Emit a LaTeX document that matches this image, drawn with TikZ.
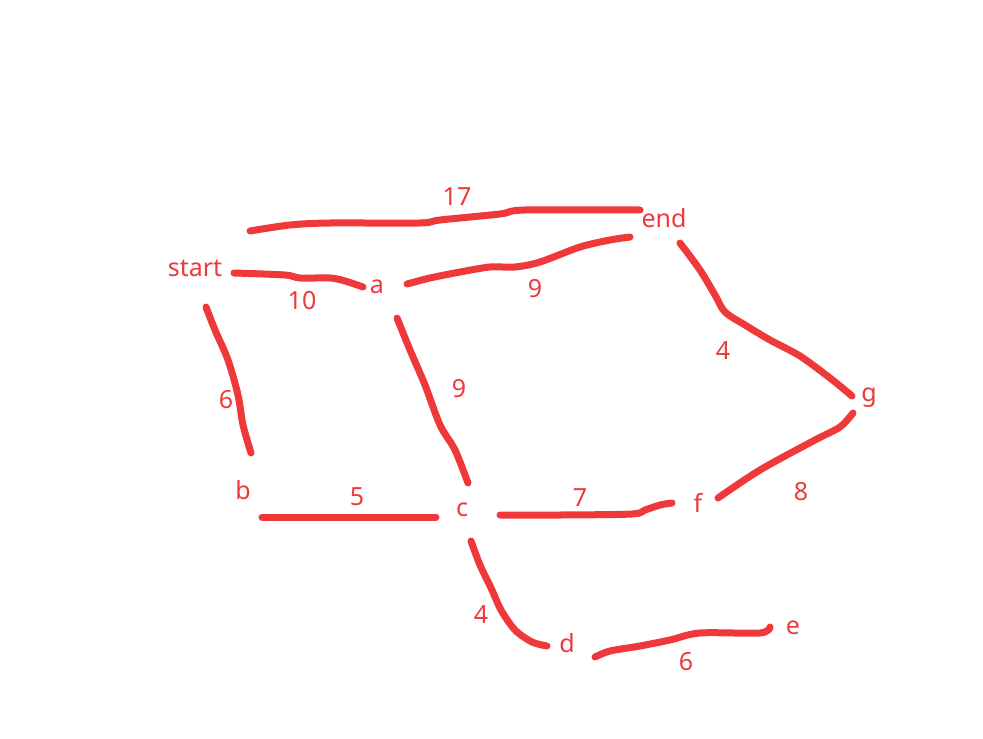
\documentclass[tikz,border=0pt]{standalone}
\usepackage{fontspec}
\setmainfont{Noto Sans}
\definecolor{ink}{RGB}{238,56,58}
\tikzset{
  stroke/.style={draw=ink, line width=7pt, line cap=round, line join=round},
  lbl/.style={text=ink, font=\fontsize{25}{28}\selectfont, inner sep=0pt},
}
\begin{document}
\begin{tikzpicture}[x=1pt,y=-1pt]
\useasboundingbox (0,0) rectangle (983,739);
% vertex labels
\node[lbl] (start) at (195,268) {start};
\node[lbl] (a) at (377,287) {a};
\node[lbl] (end) at (664,218) {end};
\node[lbl] (g) at (869,398) {g};
\node[lbl] (b) at (243,490) {b};
\node[lbl] (c) at (462,510) {c};
\node[lbl] (f) at (698,503) {f};
\node[lbl] (d) at (567,643) {d};
\node[lbl] (e) at (793,628) {e};
% weight labels
\node[lbl] (w17) at (457,197) {17};
\node[lbl] (w10) at (302,301) {10};
\node[lbl] (w9a) at (535,289) {9};
\node[lbl] (w4a) at (723,351) {4};
\node[lbl] (w6a) at (226,400) {6};
\node[lbl] (w9b) at (459,389) {9};
\node[lbl] (w5) at (357,497) {5};
\node[lbl] (w7) at (580,498) {7};
\node[lbl] (w8) at (801,492) {8};
\node[lbl] (w4b) at (481,615) {4};
\node[lbl] (w6b) at (686,662) {6};
% strokes
\draw[stroke] plot[smooth, tension=0.5] coordinates {(250,231) (290,225) (330,223) (420,223) (440,220) (500,214) (525,210) (640,210)};
\draw[stroke] plot[smooth, tension=0.5] coordinates {(234,273) (285,275) (300,278) (330,278) (345,281) (363,287)};
\draw[stroke] plot[smooth, tension=0.5] coordinates {(407,284) (430,278) (460,272) (490,267) (515,267) (540,262) (580,247) (610,240) (630,237)};
\draw[stroke] plot[smooth, tension=0.5] coordinates {(680,243) (700,270) (715,295) (725,312) (745,325) (770,340) (800,356) (830,378) (852,396)};
\draw[stroke] plot[smooth, tension=0.5] coordinates {(206,307) (215,330) (228,360) (238,395) (243,425) (251,453)};
\draw[stroke] plot[smooth, tension=0.5] coordinates {(397,318) (410,350) (425,385) (440,425) (455,450) (468,483)};
\draw[stroke] (262,517) -- (436,517);
\draw[stroke] plot[smooth, tension=0.5] coordinates {(500,515) (560,515) (632,514) (645,510) (660,505) (672,503)};
\draw[stroke] plot[smooth, tension=0.5] coordinates {(853,413) (840,427) (815,440) (760,470) (718,498)};
\draw[stroke] plot[smooth, tension=0.5] coordinates {(471,541) (480,565) (492,590) (501,610) (515,630) (532,642) (547,646)};
\draw[stroke] plot[smooth, tension=0.5] coordinates {(595,657) (610,651) (640,646) (670,640) (700,633) (760,633) (770,627)};
\end{tikzpicture}
\end{document}
